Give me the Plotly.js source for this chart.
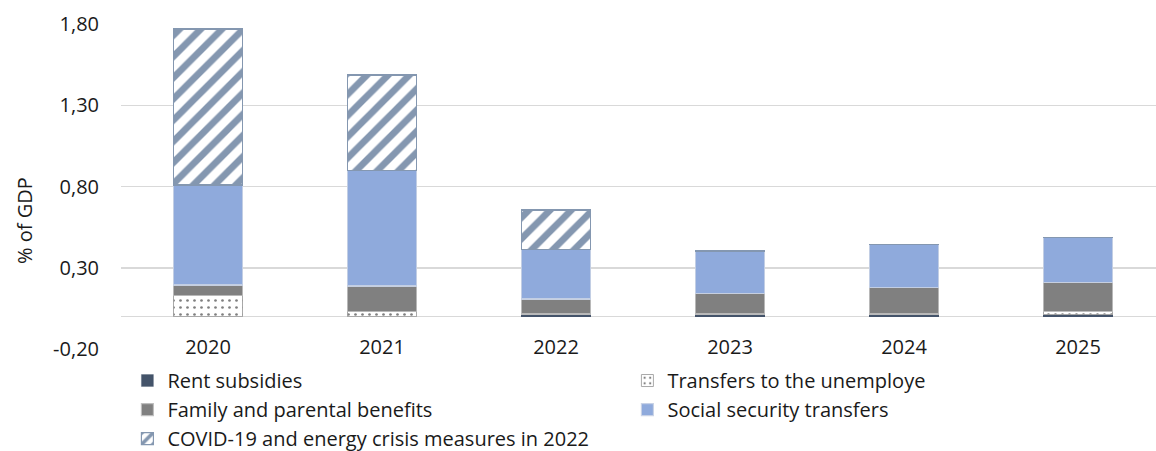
<!DOCTYPE html>
<html>
<head>
<meta charset="utf-8">
<script src="https://cdn.plot.ly/plotly-3.0.1.min.js"></script>
<style>
  html, body { margin: 0; padding: 0; background: #ffffff; overflow: hidden; }
  #chart { width: 1156px; height: 451px; }
</style>
</head>
<body>
<div id="chart"></div>
<script>
// Categories
var years = ["2020", "2021", "2022", "2023", "2024", "2025"];

// Series values (% of GDP), stacked bottom to top
var rentSubsidies      = [0.000, 0.000, 0.015, 0.015, 0.015, 0.012];
var transfersUnemploy  = [0.127, 0.030, 0.000, 0.000, 0.000, 0.020];
var familyParental     = [0.067, 0.158, 0.093, 0.128, 0.163, 0.179];
var socialSecurity     = [0.615, 0.712, 0.302, 0.260, 0.267, 0.277];
var covidEnergy        = [0.960, 0.586, 0.246, 0.000, 0.000, 0.000];

// Names
var seriesNames = [
  "Rent subsidies",
  "Transfers to the unemploye",
  "Family and parental benefits",
  "Social security transfers",
  "COVID-19 and energy crisis measures in 2022"
];

// Y tick labels
var yTickVals = [-0.2, 0.3, 0.8, 1.3, 1.8];
var yTickText = ["-0,20", "0,30", "0,80", "1,30", "1,80"];

var FONT = "Open Sans, Noto Sans, sans-serif";
var outline = { color: "rgba(200,210,228,0.9)", width: 1.2 };

var traces = [
  {
    type: "bar", name: seriesNames[0], x: years, y: rentSubsidies,
    marker: { color: "#44546A", line: { color: "rgba(68,84,106,0.6)", width: 0.5 } }
  },
  {
    type: "bar", name: seriesNames[1], x: years, y: transfersUnemploy,
    marker: {
      color: "#ffffff",
      line: { color: "rgba(160,160,160,0.9)", width: 1 },
      pattern: { shape: ".", fgcolor: "#7f7f7f", bgcolor: "#ffffff", size: 7, solidity: 0.12, fillmode: "replace" }
    }
  },
  {
    type: "bar", name: seriesNames[2], x: years, y: familyParental,
    marker: { color: "#808080", line: { color: "rgba(190,190,190,0.9)", width: 1.2 } }
  },
  {
    type: "bar", name: seriesNames[3], x: years, y: socialSecurity,
    marker: { color: "#8FAADC", line: outline }
  },
  {
    type: "bar", name: seriesNames[4], x: years, y: covidEnergy,
    marker: {
      color: "#ffffff",
      line: { color: "#8497B0", width: 1.2 },
      pattern: { shape: "/", fgcolor: "#8497B0", bgcolor: "#ffffff", size: 15, solidity: 0.45, fillmode: "replace" }
    }
  }
];

var layout = {
  width: 1156,
  height: 451,
  margin: { l: 121, r: 0, t: 24, b: 102, pad: 0, autoexpand: false },
  paper_bgcolor: "#ffffff",
  plot_bgcolor: "#ffffff",
  barmode: "stack",
  bargap: 0.6,
  hovermode: false,
  font: { family: FONT, size: 20, color: "#1a1a1a" },
  xaxis: {
    type: "category",
    range: [-0.5, 5.448],
    showgrid: false,
    showline: false,
    zeroline: false,
    ticks: "",
    ticklabelstandoff: -16,
    automargin: false,
    tickfont: { family: FONT, size: 20, color: "#1a1a1a" },
    fixedrange: true
  },
  yaxis: {
    range: [-0.2, 1.8],
    tickmode: "array",
    tickvals: yTickVals,
    ticktext: yTickText,
    showgrid: true,
    gridcolor: "#d9d9d9",
    gridwidth: 1.5,
    zeroline: true,
    zerolinecolor: "#d9d9d9",
    zerolinewidth: 1.5,
    showline: false,
    ticks: "",
    ticklabelstandoff: 21,
    automargin: false,
    tickfont: { family: FONT, size: 20, color: "#1a1a1a" },
    fixedrange: true
  },
  showlegend: true,
  legend: {
    orientation: "h",
    x: 0.0062,
    xanchor: "left",
    y: -0.037,
    yanchor: "top",
    entrywidth: 455,
    entrywidthmode: "pixels",
    itemwidth: 30,
    traceorder: "normal",
    font: { family: FONT, size: 20, color: "#1a1a1a" },
    bgcolor: "rgba(0,0,0,0)"
  },
  annotations: [
    {
      text: "% of GDP",
      xref: "paper", yref: "paper",
      x: -0.0928, y: 0.397,
      xanchor: "center", yanchor: "middle",
      textangle: -90,
      showarrow: false,
      font: { family: FONT, size: 20, color: "#1a1a1a" }
    }
  ]
};

Plotly.newPlot("chart", traces, layout, { displayModeBar: false, staticPlot: true });
</script>
</body>
</html>
